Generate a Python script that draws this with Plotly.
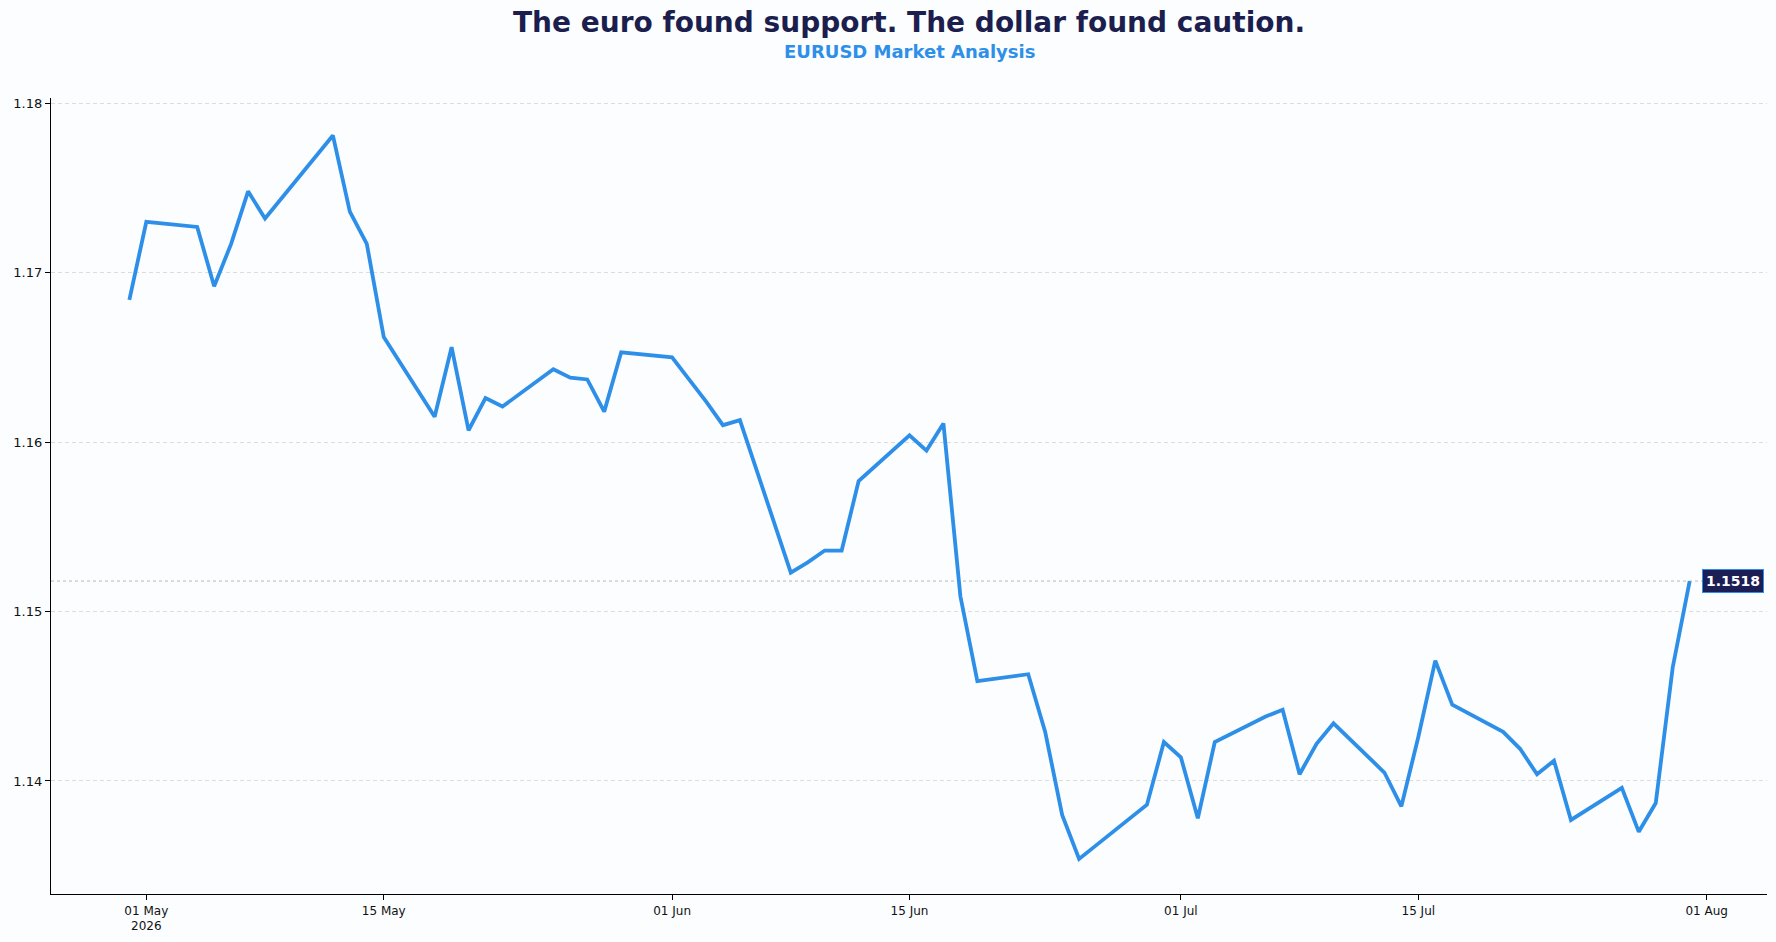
import plotly.graph_objects as go
import pandas as pd

dates = [
    "2026-04-30", "2026-05-01", "2026-05-04", "2026-05-05", "2026-05-06", "2026-05-07", "2026-05-08",
    "2026-05-11", "2026-05-12", "2026-05-13", "2026-05-14", "2026-05-15",
    "2026-05-18", "2026-05-19", "2026-05-20", "2026-05-21", "2026-05-22",
    "2026-05-25", "2026-05-26", "2026-05-27", "2026-05-28", "2026-05-29",
    "2026-06-01", "2026-06-02", "2026-06-03", "2026-06-04", "2026-06-05",
    "2026-06-08", "2026-06-09", "2026-06-10", "2026-06-11", "2026-06-12",
    "2026-06-15", "2026-06-16", "2026-06-17", "2026-06-18", "2026-06-19",
    "2026-06-22", "2026-06-23", "2026-06-24", "2026-06-25", "2026-06-26",
    "2026-06-29", "2026-06-30", "2026-07-01", "2026-07-02", "2026-07-03",
    "2026-07-06", "2026-07-07", "2026-07-08", "2026-07-09", "2026-07-10",
    "2026-07-13", "2026-07-14", "2026-07-15", "2026-07-16", "2026-07-17",
    "2026-07-20", "2026-07-21", "2026-07-22", "2026-07-23", "2026-07-24",
    "2026-07-27", "2026-07-28", "2026-07-29", "2026-07-30", "2026-07-31",
]
eurusd = [
    1.1684, 1.1730, 1.1727, 1.1692, 1.1717, 1.1748, 1.1732,
    1.1769, 1.1781, 1.1736, 1.1717, 1.1662,
    1.1615, 1.1656, 1.1607, 1.1626, 1.1621,
    1.1643, 1.1638, 1.1637, 1.1618, 1.1653,
    1.1650, 1.1637, 1.1624, 1.1610, 1.1613,
    1.1523, 1.1529, 1.1536, 1.1536, 1.1577,
    1.1604, 1.1595, 1.1611, 1.1509, 1.1459,
    1.1463, 1.1429, 1.1380, 1.1354, 1.1362,
    1.1386, 1.1423, 1.1414, 1.1378, 1.1423,
    1.1438, 1.1442, 1.1404, 1.1422, 1.1434,
    1.1405, 1.1385, 1.1426, 1.1471, 1.1445,
    1.1429, 1.1419, 1.1404, 1.1412, 1.1377,
    1.1396, 1.1370, 1.1387, 1.1467, 1.1518,
]
last_label = "1.1518"

x_tickvals = ["2026-05-01", "2026-05-15", "2026-06-01", "2026-06-15", "2026-07-01", "2026-07-15", "2026-08-01"]
x_ticktext = ["01 May<br>2026", "15 May", "01 Jun", "15 Jun", "01 Jul", "15 Jul", "01 Aug"]
y_tickvals = [1.14, 1.15, 1.16, 1.17, 1.18]

title_text = "The euro found support. The dollar found caution."
subtitle_text = "EURUSD Market Analysis"

FONT = "DejaVu Sans"
BG = "#fbfdff"
LINE = "#2e8fe8"
NAVY = "#1c1f55"

dt = pd.to_datetime(dates)

fig = go.Figure()
fig.add_trace(go.Scatter(
    x=dt, y=eurusd, mode="lines",
    line=dict(color=LINE, width=3.8),
    hoverinfo="x+y", showlegend=False,
))

# last value reference line
fig.add_shape(type="line", xref="paper", yref="y", x0=0, x1=1,
              y0=eurusd[-1], y1=eurusd[-1],
              line=dict(color="#b8b8b8", width=1, dash="dot"), layer="below")

fig.add_annotation(x=dt[-1], y=eurusd[-1], xref="x", yref="y",
                   text="<b>" + last_label + "</b>", showarrow=False,
                   xanchor="left", yanchor="middle", xshift=12,
                   font=dict(family=FONT, size=14, color="white"),
                   bgcolor=NAVY, bordercolor=LINE, borderwidth=1, borderpad=3)

fig.add_annotation(text="<b>" + title_text + "</b>", xref="paper", yref="paper",
                   x=0.5, y=1 + (98 - 23) / 796, xanchor="center", yanchor="middle",
                   showarrow=False, font=dict(family=FONT, size=28, color="#1c1f4e"))
fig.add_annotation(text="<b>" + subtitle_text + "</b>", xref="paper", yref="paper",
                   x=0.5, y=1 + (98 - 52) / 796, xanchor="center", yanchor="middle",
                   showarrow=False, font=dict(family=FONT, size=18, color=LINE))

fig.update_layout(
    width=1776, height=942,
    margin=dict(l=51, r=9, t=98, b=48),
    paper_bgcolor=BG, plot_bgcolor=BG,
    font=dict(family=FONT, size=13, color="#111111"),
    xaxis=dict(
        type="date",
        range=["2026-04-25 09:07", "2026-08-04 13:26"],
        tickvals=x_tickvals, ticktext=x_ticktext,
        showgrid=False, zeroline=False,
        showline=True, linecolor="black", linewidth=1.2,
        ticks="outside", ticklen=5, tickcolor="black", tickwidth=1,
        tickfont=dict(family=FONT, size=12, color="#111111"),
    ),
    yaxis=dict(
        range=[1.13333, 1.18031],
        tickvals=y_tickvals, tickformat=".2f",
        showgrid=True, gridcolor="#dcdcdc", griddash="4px,3px", gridwidth=0.8,
        zeroline=False,
        showline=True, linecolor="black", linewidth=1.2,
        ticks="outside", ticklen=5, tickcolor="black", tickwidth=1,
        tickfont=dict(family=FONT, size=13, color="#111111"),
    ),
)

fig.write_html("out.html")
